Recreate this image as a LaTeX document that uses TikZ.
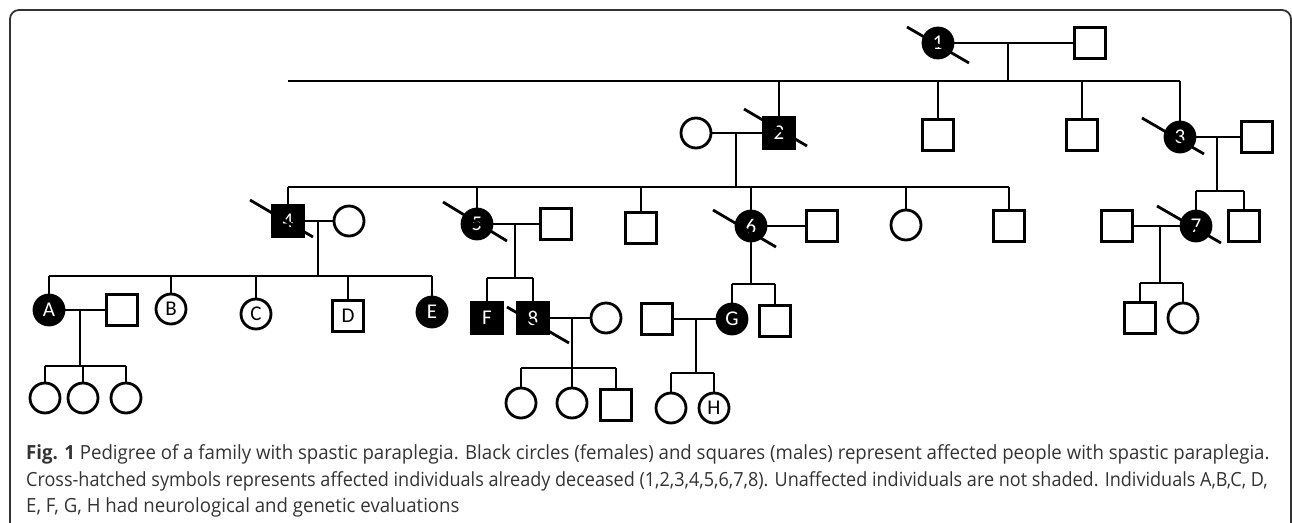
\documentclass[tikz,border=0pt]{standalone}
\usepackage{fontspec}
\setmainfont{Carlito}
\newfontfamily\capfont[FakeStretch=0.955]{Open Sans}
\newfontfamily\capfontb[FakeStretch=0.925]{Open Sans}
\usetikzlibrary{calc}
\definecolor{captxt}{HTML}{333333}
\begin{document}
\begin{tikzpicture}[x=1pt,y=-1pt,
  ln/.style={line width=2.8pt},
  sym/.style={draw,line width=2.8pt,inner sep=0pt,font=\fontsize{21}{21}\selectfont},
  male/.style={sym,rectangle,minimum size=31pt},
  female/.style={sym,circle,minimum size=30pt},
  aff/.style={fill=black,text=white},
  captext/.style={anchor=base west,inner sep=0pt,text=captxt,font=\capfont\fontsize{19.5}{22}\selectfont},
  captextb/.style={captext,font=\capfontb\fontsize{19.5}{22}\selectfont},
]
\useasboundingbox (0,0) rectangle (1292,522);
\draw[line width=1.8pt,rounded corners=9pt,captxt] (10,545) -- (10,10) -- (1291,10) -- (1291,545);

% ---------- Generation I
\node[female,aff] (p1) at (938,43) {1};
\node[male] (p1h) at (1090,43) {};
\coordinate (m1) at (1008,43);
\coordinate (s1) at (1008,81);

% ---------- Generation II
\node[male,aff] (p2) at (779,133) {2};
\node[female] (p2w) at (696,133) {};
\node[male] (g2a) at (938,135) {};
\node[male] (g2b) at (1082,135) {};
\node[female,aff] (p3) at (1180,137) {3};
\node[male] (p3h) at (1257,137) {};
\coordinate (m2) at (736,133);
\coordinate (s2) at (736,187);
\coordinate (m3) at (1217,137);
\coordinate (s3) at (1217,191);

% ---------- Generation III
\node[male,aff] (p4) at (288,221) {4};
\node[female] (p4w) at (349,221) {};
\node[female,aff] (p5) at (477,224) {5};
\node[male] (p5h) at (556,224) {};
\node[male] (g3a) at (641,228) {};
\node[female,aff] (p6) at (751,226) {6};
\node[male] (p6h) at (822,226) {};
\node[female] (g3b) at (906,225) {};
\node[male] (g3c) at (1009,226) {};
\node[female,aff] (p7) at (1196,226) {7};
\node[male] (p7h) at (1117,226) {};
\node[male] (g3d) at (1244,226) {};
\coordinate (m4) at (318,221);
\coordinate (s4) at (318,276);
\coordinate (m5) at (515,224);
\coordinate (s5) at (515,278);
\coordinate (s6) at (751,284);
\coordinate (m7) at (1160,226);
\coordinate (s7) at (1160,283);

% ---------- Generation IV
\node[female,aff] (A) at (49,310) {A};
\node[male] (Ah) at (122,310) {};
\node[female] (B) at (171,309) {B};
\node[female] (C) at (256,314) {C};
\node[male] (D) at (348,316) {D};
\node[female,aff] (E) at (432,312) {E};
\node[male,aff] (F) at (487,318) {F};
\node[male,aff] (p8) at (533,318) {8};
\node[female] (p8w) at (606,318) {};
\node[male] (Gh) at (657,319) {};
\node[female,aff] (G) at (732,319) {G};
\node[male] (g4a) at (775,321) {};
\node[male] (g4b) at (1140,318) {};
\node[female] (g4c) at (1183,318) {};
\coordinate (mA) at (80,310);
\coordinate (sA) at (80,366);
\coordinate (m8) at (572,318);
\coordinate (s8) at (572,368);
\coordinate (mG) at (696,319);
\coordinate (sG) at (696,373);

% ---------- Generation V
\node[female] (a1) at (45,398) {};
\node[female] (a2) at (83,398) {};
\node[female] (a3) at (126,398) {};
\node[female] (e1) at (521,403) {};
\node[female] (e2) at (572,403) {};
\node[male] (e3) at (616,405) {};
\node[female] (h1) at (671,408) {};
\node[female] (H) at (714,408) {H};

% ---------- Connectors
\draw[ln] (p1) -- (p1h);
\draw[ln] (m1) -- (s1);
\draw[ln] (p4 |- s1) -- (p3 |- s1);
\foreach \n in {p2,g2a,g2b,p3} \draw[ln] (\n) -- (\n |- s1);
\draw[ln] (p2w) -- (p2);
\draw[ln] (m2) -- (s2);
\draw[ln] (p4 |- s2) -- (g3c |- s2);
\foreach \n in {p4,p5,g3a,p6,g3b,g3c} \draw[ln] (\n) -- (\n |- s2);
\draw[ln] (p3) -- (p3h);
\draw[ln] (m3) -- (s3);
\draw[ln] (p7 |- s3) -- (g3d |- s3);
\foreach \n in {p7,g3d} \draw[ln] (\n) -- (\n |- s3);
\draw[ln] (p4) -- (p4w);
\draw[ln] (m4) -- (s4);
\draw[ln] (A |- s4) -- (E |- s4);
\foreach \n in {A,B,C,D,E} \draw[ln] (\n) -- (\n |- s4);
\draw[ln] (p5) -- (p5h);
\draw[ln] (m5) -- (s5);
\draw[ln] (F |- s5) -- (p8 |- s5);
\foreach \n in {F,p8} \draw[ln] (\n) -- (\n |- s5);
\draw[ln] (p6) -- (p6h);
\draw[ln] (p6) -- (s6);
\draw[ln] (G |- s6) -- (g4a |- s6);
\foreach \n in {G,g4a} \draw[ln] (\n) -- (\n |- s6);
\draw[ln] (p7h) -- (p7);
\draw[ln] (m7) -- (s7);
\draw[ln] (g4b |- s7) -- (g4c |- s7);
\foreach \n in {g4b,g4c} \draw[ln] (\n) -- (\n |- s7);
\draw[ln] (A) -- (Ah);
\draw[ln] (mA) -- (sA);
\draw[ln] (a1 |- sA) -- (a3 |- sA);
\foreach \n in {a1,a2,a3} \draw[ln] (\n) -- (\n |- sA);
\draw[ln] (p8) -- (p8w);
\draw[ln] (m8) -- (s8);
\draw[ln] (e1 |- s8) -- (e3 |- s8);
\foreach \n in {e1,e2,e3} \draw[ln] (\n) -- (\n |- s8);
\draw[ln] (Gh) -- (G);
\draw[ln] (mG) -- (sG);
\draw[ln] (h1 |- sG) -- (H |- sG);
\foreach \n in {h1,H} \draw[ln] (\n) -- (\n |- sG);

% ---------- Deceased slashes
\draw[ln] ($(p1)+(-31,-16)$) -- ($(p1)+(31,20)$);
\draw[ln] ($(p2)+(-35,-24)$) -- ($(p2)+(28,13)$);
\draw[ln] ($(p3)+(-38,-19)$) -- ($(p3)+(24,17)$);
\draw[ln] ($(p4)+(-38,-21)$) -- ($(p4)+(25,16)$);
\draw[ln] ($(p5)+(-34,-22)$) -- ($(p5)+(30,17)$);
\draw[ln] ($(p6)+(-38,-16)$) -- ($(p6)+(25,21)$);
\draw[ln] ($(p7)+(-39,-20)$) -- ($(p7)+(25,17)$);
\draw[ln] ($(p8)+(-26,-11)$) -- ($(p8)+(36,25)$);

% ---------- Caption
\node[captext] (cap1) at (26,459) {\textbf{Fig. 1} Pedigree of a family with spastic paraplegia. Black circles (females) and squares (males) represent affected people with spastic paraplegia.};
\node[captextb] (cap2) at (26,486) {Cross-hatched symbols represents affected individuals already deceased (1,2,3,4,5,6,7,8). Unaffected individuals are not shaded. Individuals A,B,C, D,};
\node[captext] (cap3) at (26,512) {E, F, G, H had neurological and genetic evaluations};
\end{tikzpicture}
\end{document}
